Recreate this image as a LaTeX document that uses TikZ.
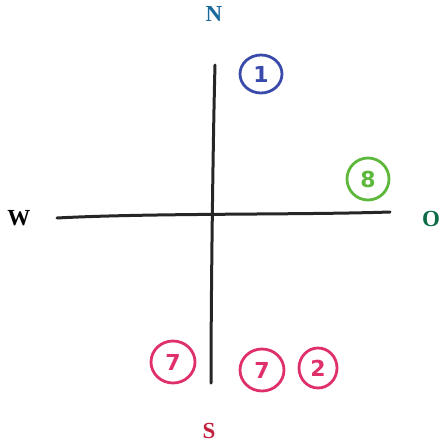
\documentclass[tikz,border=0pt]{standalone}
\usepackage{fontspec}
\setmainfont{Liberation Serif}
\newfontfamily\handfont{DejaVu Sans}
\definecolor{nblue}{HTML}{1B6A9C}
\definecolor{ogreen}{HTML}{0B6B47}
\definecolor{sred}{HTML}{C0203C}
\definecolor{cblue}{HTML}{3A4AAA}
\definecolor{cgreen}{HTML}{5DB83C}
\definecolor{cpink}{HTML}{E0306A}
\tikzset{
  dir/.style={font=\bfseries\fontsize{23}{25}\selectfont, inner sep=0pt},
  axis/.style={line width=3pt, line cap=round, color=black!85},
  mark circle/.style={ellipse, draw, line width=2.8pt, minimum width=42pt, minimum height=38pt, inner sep=0pt,
    font=\handfont\bfseries\fontsize{22}{24}\selectfont},
}
\usetikzlibrary{shapes.geometric}
\begin{document}
\begin{tikzpicture}[x=1pt,y=-1pt]
\useasboundingbox (0,0) rectangle (439,442);
\node[dir, text=nblue] (N) at (214,14) {N};
\node[dir, text=black] (W) at (19,218) {W};
\node[dir, text=ogreen] (O) at (431,219) {O};
\node[dir, text=sred] (S) at (209,431) {S};
\coordinate (ntop) at (215,65);
\coordinate (sbot) at (211,383);
\coordinate (wend) at (57,218);
\coordinate (oend) at (390,212);
\draw[axis] (ntop) .. controls (213,140) and (211,300) .. (sbot);
\draw[axis] (wend) .. controls (150,213) and (300,215) .. (oend);
\node[mark circle, draw=cblue, text=cblue] (c1) at (261,74) {1};
\node[mark circle, draw=cgreen, text=cgreen, minimum width=42pt, minimum height=42pt] (c8) at (368,179) {8};
\node[mark circle, draw=cpink, text=cpink, minimum width=44pt, minimum height=42pt] (c7a) at (173,362) {7};
\node[mark circle, draw=cpink, text=cpink, minimum width=44pt, minimum height=42pt] (c7b) at (262,370) {7};
\node[mark circle, draw=cpink, text=cpink, minimum width=38pt, minimum height=40pt] (c2) at (318,368) {2};
\end{tikzpicture}
\end{document}
